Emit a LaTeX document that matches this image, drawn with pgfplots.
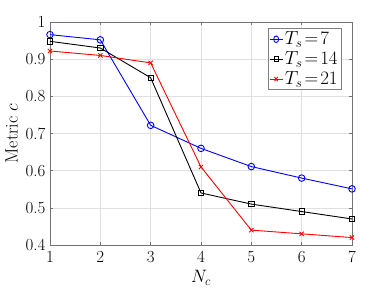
\RequirePackage{fix-cm}
\documentclass[border=0pt]{standalone}
\usepackage{pgfplots}
\pgfplotsset{compat=1.18}
\begin{document}
\begin{tikzpicture}[x=1bp,y=1bp]
\begin{axis}[
  name=ax,
  scale only axis,
  width=302bp, height=223bp,
  xmin=1, xmax=7, ymin=0.4, ymax=1,
  xtick={1,...,7},
  ytick={0.4,0.5,...,1.0},
  yticklabels={0.4,0.5,0.6,0.7,0.8,0.9,1},
  tick label style={font=\fontsize{17}{19}\selectfont},
  xticklabel style={yshift=-3bp},
  yticklabel style={xshift=-1bp},
  tick align=inside,
  tick pos=both,
  major tick length=3bp,
  axis line style={black!55, line width=0.6pt},
  tick style={black!55, line width=0.6pt},
  grid=major,
  grid style={black!12, line width=0.5pt},
  xlabel={$N_c$},
  ylabel={Metric $c$},
  label style={font=\fontsize{18}{20}\selectfont},
  xlabel style={yshift=-1bp},
  ylabel style={yshift=1bp},
  legend style={at={(rel axis cs:0.965,0.972)}, anchor=north east, draw=black!50, line width=0.6pt,
    font=\fontsize{19}{20}\selectfont, inner sep=1.5pt, row sep=1.5pt, cells={anchor=west}},
  legend cell align=left,
  legend image post style={xscale=0.75},
]
\addplot[blue, line width=0.9pt, mark=o, mark size=3.3bp, mark options={line width=0.9pt}] coordinates {
(1,0.966) (2,0.952) (3,0.722) (4,0.66) (5,0.611) (6,0.58) (7,0.551)};
\addlegendentry{$T_s\!=\!7$}
\addplot[black, line width=0.9pt, mark=square, mark size=2.7bp, mark options={line width=0.9pt}] coordinates {
(1,0.948) (2,0.93) (3,0.85) (4,0.54) (5,0.51) (6,0.49) (7,0.47)};
\addlegendentry{$T_s\!=\!14$}
\addplot[red, line width=0.9pt, mark=x, mark size=3bp, mark options={line width=0.9pt}] coordinates {
(1,0.922) (2,0.91) (3,0.89) (4,0.61) (5,0.44) (6,0.43) (7,0.42)};
\addlegendentry{$T_s\!=\!21$}
\end{axis}
\path[use as bounding box] ([xshift=-50bp,yshift=-46bp]ax.south west) rectangle ([xshift=36bp,yshift=22bp]ax.north east);
\end{tikzpicture}
\end{document}
